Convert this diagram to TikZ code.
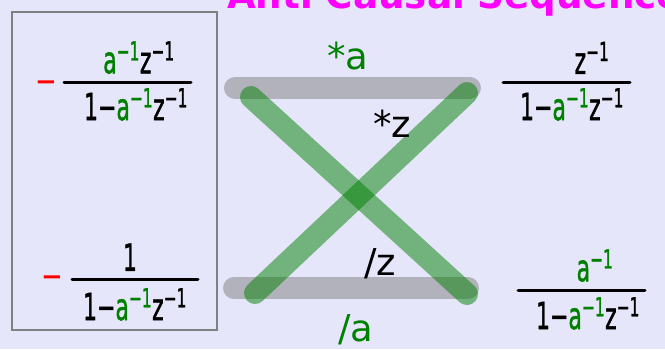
\documentclass[tikz,border=0pt]{standalone}
\usepackage{fontspec}
\setmainfont{DejaVu Sans}
\newfontfamily\handfont[FakeBold=1.5]{DejaVu Sans}
\usepackage{graphicx}
\definecolor{bg}{RGB}{230,230,250}
\definecolor{dg}{RGB}{0,128,0}
\definecolor{mag}{RGB}{255,0,255}
\newcommand{\tallt}[1]{\scalebox{1}[1.7]{#1}}
\newcommand{\minv}{\textsuperscript{−1}}
\tikzset{
  lab/.style={font=\fontsize{37}{37}\selectfont, inner sep=0pt, anchor=base},
  fr/.style={font=\handfont\fontsize{22}{22}\selectfont, inner sep=0pt},
  barline/.style={line width=3pt, line cap=round},
  graybar/.style={line width=22pt, line cap=round, gray, opacity=0.5},
  greenbar/.style={line width=22pt, line cap=round, dg, opacity=0.5},
  redminus/.style={font=\fontsize{26}{26}\selectfont\bfseries, inner sep=0pt, text=red, anchor=base},
}
\begin{document}
\begin{tikzpicture}[x=1pt,y=-1pt]
\fill[bg] (0,0) rectangle (665,349);
\useasboundingbox (0,0) rectangle (665,349);
% title (clipped at top)
\node[anchor=base west, font=\fontsize{37.2}{37.2}\selectfont\bfseries, text=mag, inner sep=0pt] (title) at (227,8.5) {Anti Causal Sequence};
% box
\node[draw=gray, line width=2pt, minimum width=205pt, minimum height=318pt, inner sep=0pt] (box) at (114.5,171) {};
% gray bars
\coordinate (ta) at (235,88);
\coordinate (tb) at (470,88);
\coordinate (ba) at (234,288);
\coordinate (bb) at (468,288);
\draw[graybar] (ta) -- (tb);
\draw[graybar] (ba) -- (bb);
% green cross
\coordinate (g1a) at (251,97);
\coordinate (g1b) at (467,294);
\coordinate (g2a) at (255,293);
\coordinate (g2b) at (467,93);
\draw[greenbar] (g1a) -- (g1b);
\draw[greenbar] (g2a) -- (g2b);
% labels
\node[lab, text=dg] (sa) at (348,69) {*a};
\node[lab] (sz) at (392,137) {*z};
\node[lab] (dz) at (380,275) {/z};
\node[lab, text=dg] (da) at (356,341) {/a};
% left top fraction
\node[redminus] (m1) at (46,90.5) {−};
\coordinate (b1a) at (64,82);
\coordinate (b1b) at (191,82);
\draw[barline] (b1a) -- (b1b);
\node[fr, anchor=south] (n1) at (139,74) {\tallt{\textcolor{dg}{a\minv}z\minv}};
\node[fr, anchor=north] (d1) at (136,88) {\tallt{1−\textcolor{dg}{a\minv}z\minv}};
% left bottom fraction
\node[redminus] (m2) at (52,285.5) {−};
\coordinate (b2a) at (72,279);
\coordinate (b2b) at (198,279);
\draw[barline] (b2a) -- (b2b);
\node[fr, anchor=south] (n2) at (130,271) {\tallt{1}};
\node[fr, anchor=north] (d2) at (135,288) {\tallt{1−\textcolor{dg}{a\minv}z\minv}};
% right top fraction
\coordinate (b3a) at (503,82);
\coordinate (b3b) at (630,82);
\draw[barline] (b3a) -- (b3b);
\node[fr, anchor=south] (n3) at (592,74) {\tallt{z\minv}};
\node[fr, anchor=north] (d3) at (572,88) {\tallt{1−\textcolor{dg}{a\minv}z\minv}};
% right bottom fraction
\coordinate (b4a) at (518,290);
\coordinate (b4b) at (645,290);
\draw[barline] (b4a) -- (b4b);
\node[fr, anchor=south, text=dg] (n4) at (595,282) {\tallt{a\minv}};
\node[fr, anchor=north] (d4) at (588,297) {\tallt{1−\textcolor{dg}{a\minv}z\minv}};
\end{tikzpicture}
\end{document}
